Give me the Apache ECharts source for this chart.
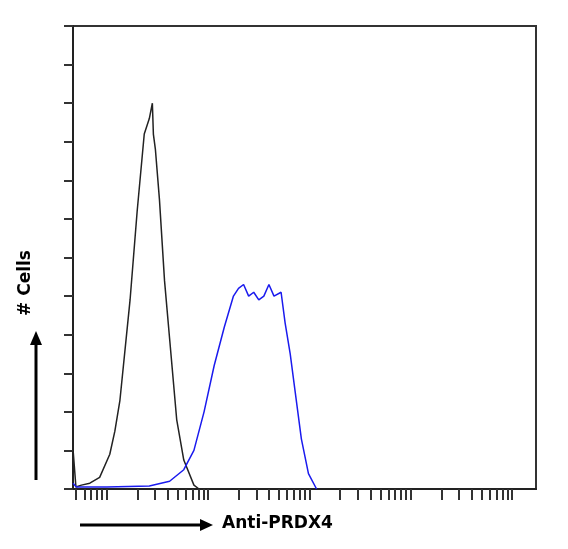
<!DOCTYPE html><html><head><meta charset="utf-8"><script src="https://cdn.jsdelivr.net/npm/echarts@6/dist/echarts.min.js"></script></head><body style="margin:0;background:#fff"><div id="c" style="width:568px;height:549px"></div><script>
// x in log10 fluorescence units, y in counts (axis units)
const blackX=[0.667,0.668,0.696,0.75,0.833,0.93,1.03,1.08,1.13,1.23,1.30,1.37,1.42,1.45,1.46,1.48,1.52,1.57,1.62,1.69,1.76,1.86,1.91];
const blackY=[0,1.0,0.05,0.1,0.15,0.3,0.9,1.5,2.3,4.9,7.2,9.2,9.6,10.0,9.2,8.8,7.5,5.4,3.9,1.8,0.75,0.1,0];
const blueX=[0.667,0.70,1.0,1.42,1.62,1.76,1.86,1.96,2.06,2.16,2.25,2.30,2.35,2.40,2.45,2.50,2.55,2.60,2.65,2.72,2.76,2.81,2.86,2.92,2.99,3.07];
const blueY=[0.15,0.05,0.05,0.08,0.2,0.5,1.0,2.0,3.2,4.2,5.0,5.2,5.3,5.0,5.1,4.9,5.0,5.3,5.0,5.1,4.3,3.5,2.5,1.3,0.4,0];
const xTicks=[];for(let d=0;d<6;d++)for(let k=1;k<10;k++){const v=d+Math.log10(k);if(v>=0.667&&v<=5.235)xTicks.push(v);}
const yTicks=[0,1,2,3,4,5,6,7,8,9,10,11,12];
const c=echarts.init(document.getElementById('c'));
c.setOption({animation:false,
grid:{left:73,right:32,top:26,bottom:60,show:true,borderColor:'#333',borderWidth:2},
xAxis:{type:'value',min:0.667,max:5.235,splitLine:{show:false},axisLine:{lineStyle:{color:'#222',width:2}},
 axisTick:{customValues:xTicks,length:11,lineStyle:{color:'#333',width:2}},axisLabel:{show:false}},
yAxis:{type:'value',min:0,max:12,splitLine:{show:false},axisLine:{lineStyle:{color:'#222',width:2}},
 axisTick:{customValues:yTicks,length:9,lineStyle:{color:'#333',width:2}},axisLabel:{show:false}},
series:[
{type:'line',symbol:'none',data:blackX.map((x,i)=>[x,blackY[i]]),lineStyle:{color:'#222',width:1.5}},
{type:'line',symbol:'none',data:blueX.map((x,i)=>[x,blueY[i]]),lineStyle:{color:'#1a1aee',width:1.5}}
],
graphic:[
{type:'line',shape:{x1:80,y1:525,x2:205,y2:525},style:{stroke:'#000',lineWidth:3}},
{type:'polygon',shape:{points:[[200,519],[213,525],[200,531]]},style:{fill:'#000'}},
{type:'text',left:222,top:515,style:{text:'Anti-PRDX4',font:'bold 17px "DejaVu Sans"',fill:'#000'}},
{type:'line',shape:{x1:36,y1:480,x2:36,y2:340},style:{stroke:'#000',lineWidth:3}},
{type:'polygon',shape:{points:[[30,345],[36,331],[42,345]]},style:{fill:'#000'}},
{type:'text',x:26,y:283,rotation:Math.PI/2,style:{text:'# Cells',font:'bold 17px "DejaVu Sans"',fill:'#000',align:'center',verticalAlign:'middle'}}
]});
</script></body></html>
